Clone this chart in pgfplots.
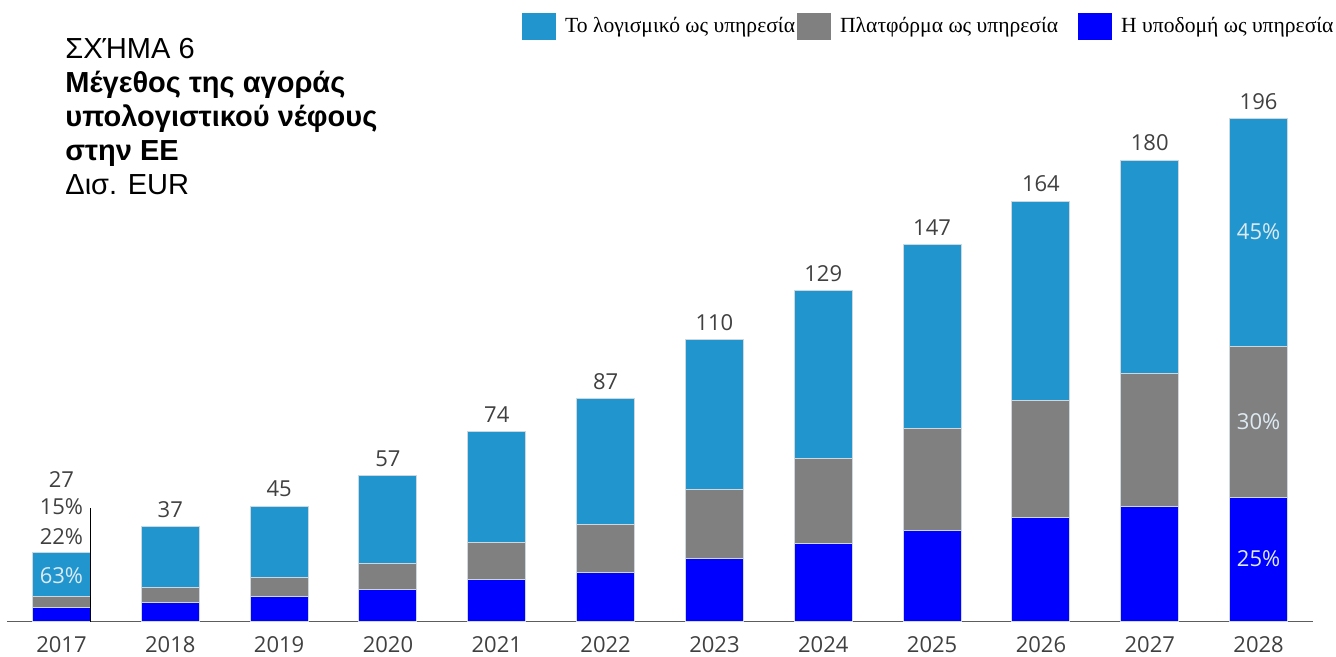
\documentclass[border=0pt]{standalone}
\usepackage{fontspec}
\setmainfont{Liberation Sans}
\newfontfamily\barfont{Open Sans}
\newfontfamily\legfont{Liberation Serif}
\usepackage{pgfplots}
\usepackage{pgfplotstable}
\pgfplotsset{compat=1.18}

\definecolor{saas}{RGB}{33,150,206}
\definecolor{paas}{RGB}{128,128,128}
\definecolor{iaas}{RGB}{0,0,255}
\definecolor{lbl}{RGB}{64,64,64}
\definecolor{inlbl}{RGB}{222,234,242}
\definecolor{sepcol}{RGB}{205,215,220}

% bn. EUR: infrastructure, platform, software; total; lift of the total (pt),
% the first bar's shares are written between the bar and its total
\pgfplotstableread{
x iaas paas saas total lift
0   5.5  4.5 17.0  27 28
1   7.6  5.8 23.6  37 0
2   9.9  7.4 27.7  45 0
3  12.6  9.9 34.5  57 0
4  16.4 14.6 43.0  74 0
5  19.3 18.6 49.1  87 0
6  24.7 26.8 58.5 110 0
7  30.3 33.2 65.5 129 0
8  35.5 39.7 71.8 147 0
9  40.6 45.6 77.8 164 0
10 45.0 51.6 83.4 180 0
11 48.6 58.8 88.6 196 0
}\cloud

\begin{document}
\begin{tikzpicture}
\path[use as bounding box] (-3.5pt,-17.65pt) rectangle (664.5pt,310.85pt);

\begin{axis}[
    scale only axis,
    width=653pt, height=251.35pt,
    xmin=-0.5, xmax=11.5, ymin=0, ymax=196,
    ybar stacked, bar width=29pt,
    axis y line=none, axis x line*=bottom,
    axis line style={draw=lbl!85, line width=0.75pt},
    xtick={0,...,11},
    xticklabels={2017,2018,2019,2020,2021,2022,2023,2024,2025,2026,2027,2028},
    major tick length=0pt,
    xticklabel style={font=\barfont\fontsize{11}{13}\selectfont, text=lbl, yshift=-4pt},
    legend columns=3, reverse legend,
    legend style={at={(1.0191,1.2109)}, anchor=north east, draw=none, fill=none,
        inner sep=0pt, font=\legfont\fontsize{10.8}{12}\selectfont},
    legend image code/.code={\draw[#1, draw=none] (0pt,-6.75pt) rectangle (17pt,6.75pt);},
    clip=false,
  ]

  \addplot[fill=iaas, draw=sepcol, line width=0.5pt] table[x=x, y=iaas] {\cloud};
  \addlegendentry{\kern2.5pt Η υποδομή ως υπηρεσία}

  \addplot[fill=paas, draw=sepcol, line width=0.5pt] table[x=x, y=paas] {\cloud};
  \addlegendentry{\kern2.5pt Πλατφόρμα ως υπηρεσία\kern8pt}

  % totals: a stacked segment's label sits at its middle, so it is raised by half
  % the segment (1 unit = 1.2824pt)
  \addplot[fill=saas, draw=sepcol, line width=0.5pt,
      nodes near coords={\pgfmathprintnumber[assume math mode=true]{\pgfplotspointmeta}},
      point meta=\thisrow{total},
      visualization depends on=\thisrow{lift} \as \lift,
      visualization depends on=\thisrow{saas} \as \seg,
      every node near coord/.append style={font=\barfont\fontsize{11}{13}\selectfont,
          text=lbl, anchor=south, yshift=\lift pt + 0.6412pt*\seg + 1pt}]
    table[x=x, y=saas] {\cloud};
  \addlegendentry{\kern2.5pt Το λογισμικό ως υπηρεσία\kern-1pt}

  \coordinate (s15) at (axis cs:0,44.7);
  \coordinate (s22) at (axis cs:0,33.0);
  \coordinate (s63) at (axis cs:0,17.8);
  \coordinate (s45) at (axis cs:11,151.9);
  \coordinate (s30) at (axis cs:11,77.9);
  \coordinate (s25) at (axis cs:11,24.6);
  \coordinate (l0) at ([xshift=14.5pt]axis cs:0,0);
  \coordinate (l1) at ([xshift=14.5pt]axis cs:0,44.3);
\end{axis}

\begin{scope}[every node/.style={font=\barfont\fontsize{11}{13}\selectfont}]
  \node[text=lbl] at (s15) {15\%};
  \node[text=lbl] at (s22) {22\%};
  \node[text=inlbl] at (s63) {63\%};
  \node[text=inlbl] at (s45) {45\%};
  \node[text=inlbl] at (s30) {30\%};
  \node[text=inlbl] at (s25) {25\%};
\end{scope}
\draw[black, line width=0.5pt] (l0) -- (l1);

\node[anchor=north west, inner sep=0pt, align=left,
      font=\fontsize{14.5}{16.9}\selectfont] at (29pt,291.7pt)
  {ΣΧΉΜΑ 6\\ \textbf{Μέγεθος της αγοράς}\\ \textbf{υπολογιστικού νέφους}\\
   \textbf{στην ΕΕ}\\ Δισ. EUR};
\end{tikzpicture}
\end{document}
